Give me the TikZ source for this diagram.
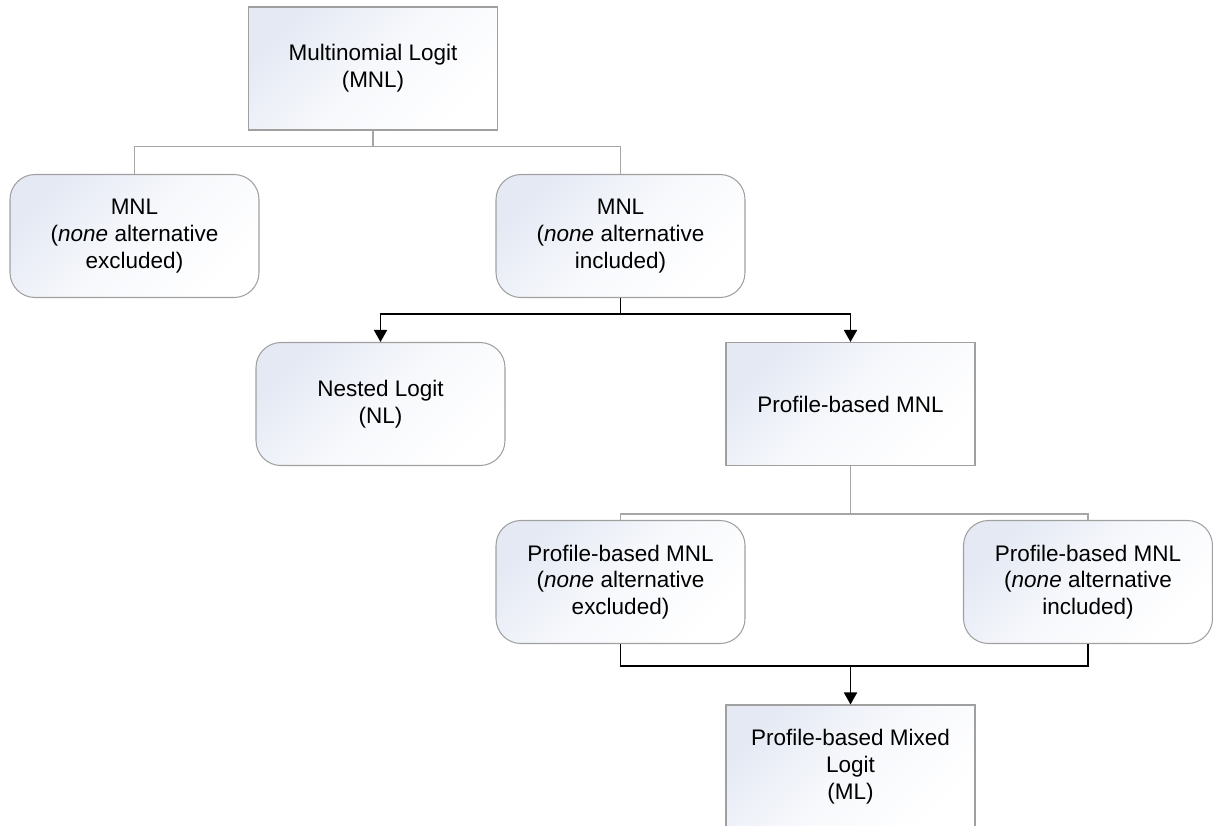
\documentclass[tikz,border=0pt]{standalone}
\usepackage{fontspec}
\setmainfont{Liberation Sans}
\usepackage{xcolor}
\usetikzlibrary{positioning,arrows.meta}
\definecolor{boxfill}{RGB}{228,233,244}
\definecolor{boxline}{RGB}{160,160,160}
\definecolor{treeline}{RGB}{166,166,166}

\begin{document}
\begin{tikzpicture}[
  box/.style={draw=boxline, line width=0.6pt, top color=boxfill, bottom color=white,
              middle color=boxfill!30!white, shading angle=45,
              minimum width=4.98cm, minimum height=2.46cm,
              font=\fontsize{12.8}{15.2}\selectfont, align=center, inner sep=2pt},
  rbox/.style={box, rounded corners=0.5cm},
  tree/.style={draw=treeline, line width=0.8pt},
  arr/.style={-{Triangle[width=0.26cm,length=0.24cm]}, line width=1pt}
]
\useasboundingbox (0,0) rectangle (24.26,-16.5);
\node[box] (mnl) at (7.46,-1.37) {Multinomial Logit\\(MNL)};
\node[rbox] (mnlexcl) at (2.69,-4.72) {MNL\\(\emph{none} alternative\\excluded)};
\node[rbox] (mnlincl) at (12.41,-4.72) {MNL\\(\emph{none} alternative\\included)};
\node[rbox] (nl) at (7.61,-8.08) {Nested Logit\\(NL)};
\node[box] (pbmnl) at (17.01,-8.08) {Profile-based MNL};
\node[rbox] (pbexcl) at (12.41,-11.64) {Profile-based MNL\\(\emph{none} alternative\\excluded)};
\node[rbox] (pbincl) at (21.76,-11.64) {Profile-based MNL\\(\emph{none} alternative\\included)};
\node[box] (pbml) at (17.01,-15.33) {Profile-based Mixed\\Logit\\(ML)};
% gray tree lines
\coordinate (b1) at ([yshift=-0.32cm]mnl.south);
\draw[tree] (mnl.south) -- (b1) -| (mnlexcl.north);
\draw[tree] (b1) -| (mnlincl.north);
\coordinate (b3) at ([yshift=-0.96cm]pbmnl.south);
\draw[tree] (pbmnl.south) -- (b3) -| (pbexcl.north);
\draw[tree] (b3) -| (pbincl.north);
% black arrows
\coordinate (b2) at ([yshift=-0.32cm]mnlincl.south);
\draw[line width=1pt] (mnlincl.south) -- (b2);
\draw[arr] (b2) -| (nl.north);
\draw[arr] (b2) -| (pbmnl.north);
\coordinate (b4) at ([yshift=-0.44cm]pbexcl.south);
\draw[line width=1pt] (pbexcl.south) -- (b4) -| (pbincl.south);
\draw[arr] (b4 -| pbml.north) -- (pbml.north);
\end{tikzpicture}
\end{document}
